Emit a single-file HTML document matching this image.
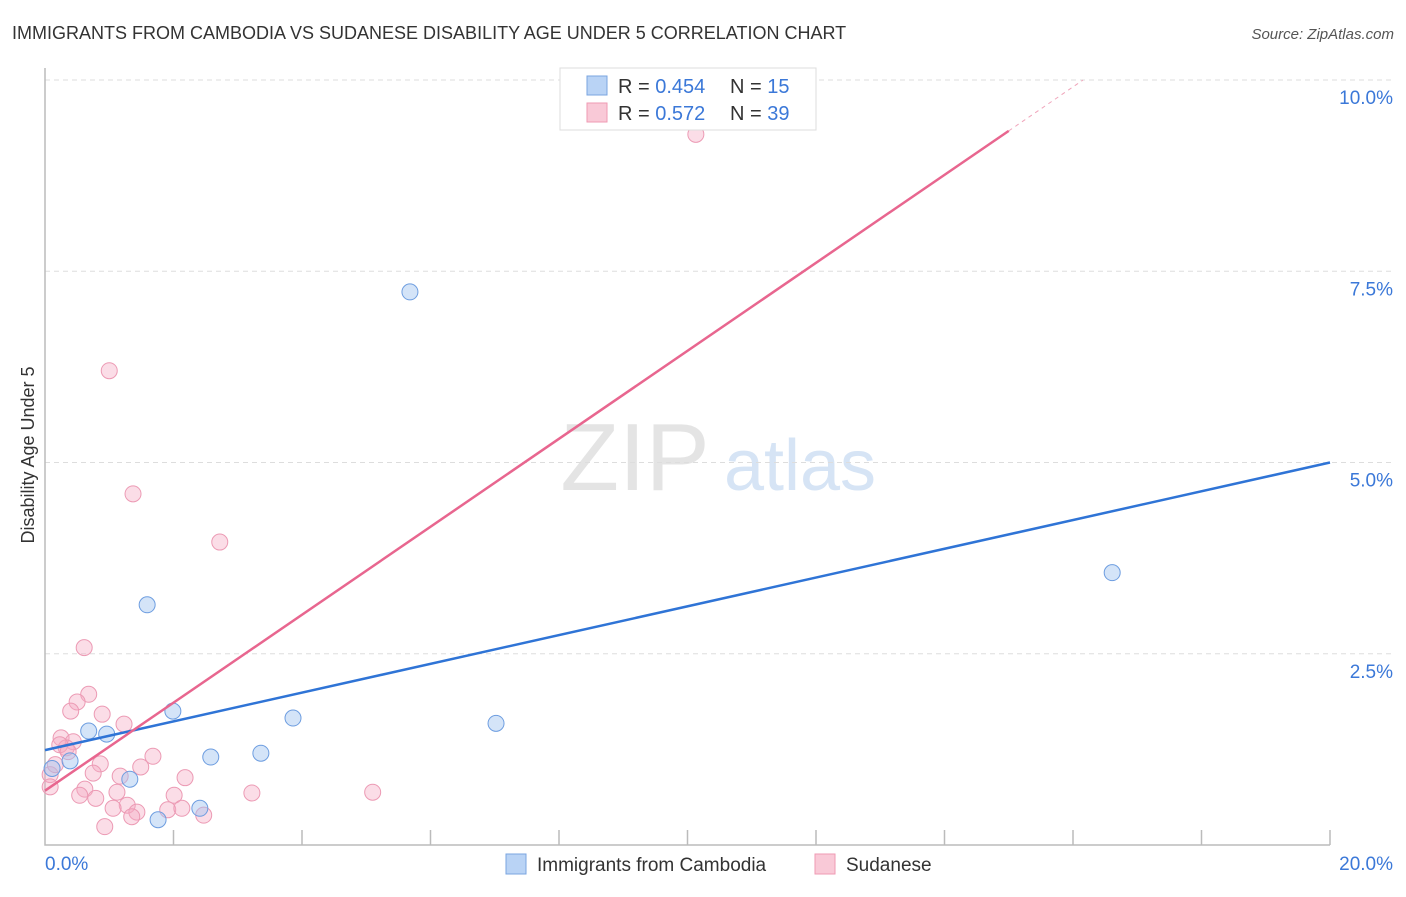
<!DOCTYPE html>
<html><head><meta charset="utf-8"><style>
body{margin:0;background:#fff;font-family:"Liberation Sans",sans-serif;}
svg text{font-family:"Liberation Sans",sans-serif;}
</style></head><body>
<svg width="1406" height="892" xmlns="http://www.w3.org/2000/svg">
<text x="12" y="39" font-size="18" fill="#333">IMMIGRANTS FROM CAMBODIA VS SUDANESE DISABILITY AGE UNDER 5 CORRELATION CHART</text>
<text x="1394" y="39" font-size="15" fill="#555" font-style="italic" text-anchor="end">Source: ZipAtlas.com</text>
<g>
<text x="635" y="490" font-size="96" fill="#e4e4e4" font-family="Liberation Serif" text-anchor="middle">ZIP</text>
<text x="800" y="490" font-size="72" fill="#d6e4f5" text-anchor="middle">atlas</text>
</g>
<g id="grid"></g>
<g id="axes"></g>
<g id="marks"></g>
<g>
<rect x="560" y="68" width="256" height="62" fill="#fff" stroke="#ddd"/>
<rect x="587" y="76" width="20" height="19" fill="#b9d3f5" stroke="#7aa5e0"/>
<text x="618" y="93" font-size="20" fill="#333">R = <tspan fill="#3b78d8">0.454</tspan></text>
<text x="730" y="93" font-size="20" fill="#333">N = <tspan fill="#3b78d8"> 15</tspan></text>
<rect x="587" y="103" width="20" height="19" fill="#f9c9d7" stroke="#ef9ab3"/>
<text x="618" y="120" font-size="20" fill="#333">R = <tspan fill="#3b78d8"> 0.572</tspan></text>
<text x="730" y="120" font-size="20" fill="#333">N = <tspan fill="#3b78d8">39</tspan></text>
</g>
<g>
<rect x="506" y="854" width="20" height="20" fill="#b9d3f5" stroke="#7aa5e0"/>
<text x="537" y="871" font-size="19" fill="#333">Immigrants from Cambodia</text>
<rect x="815" y="854" width="20" height="20" fill="#f9c9d7" stroke="#ef9ab3"/>
<text x="846" y="871" font-size="19" fill="#333">Sudanese</text>
</g>
<text transform="translate(34,455) rotate(-90)" font-size="18" fill="#333" text-anchor="middle">Disability Age Under 5</text>
</svg>
<script>
const yTicks=[2.5,5.0,7.5,10.0];
const yTickLabels=["2.5%","5.0%","7.5%","10.0%"];
const xTicks=[2,4,6,8,10,12,14,16,18,20];
const xEndLabels=["0.0%","20.0%"];
const blueX=[5.68,1.59,1.99,3.86,7.02,16.61,0.68,0.96,0.39,2.58,3.36,1.32,2.41,1.76,0.11];
const blueY=[7.23,3.14,1.75,1.66,1.59,3.56,1.49,1.45,1.10,1.15,1.20,0.86,0.48,0.33,1.0];
const pinkX=[10.13,1.0,1.37,2.72,0.61,0.68,0.5,0.4,0.89,1.23,0.25,0.44,0.33,1.68,0.86,1.49,0.75,0.08,1.17,2.18,0.62,1.12,0.54,0.79,2.01,3.22,5.1,1.28,1.06,1.43,1.91,2.13,2.47,1.35,0.93,0.08,0.16,0.23,0.36];
const pinkY=[9.29,6.2,4.59,3.96,2.58,1.97,1.87,1.75,1.71,1.58,1.40,1.35,1.27,1.16,1.06,1.02,0.94,0.92,0.90,0.88,0.73,0.69,0.65,0.61,0.65,0.68,0.69,0.52,0.48,0.43,0.46,0.48,0.39,0.37,0.24,0.76,1.05,1.31,1.22];
const blueTrend=[1.24,5.0]; // at x=0 and x=20
const pinkTrend=[0.71,0.575]; // intercept, slope
const NS="http://www.w3.org/2000/svg";
const X=v=>45+v*64.25, Y=v=>845-v*76.5;
function mk(t,a,p){const e=document.createElementNS(NS,t);for(const k in a)e.setAttribute(k,a[k]);p.appendChild(e);return e;}
const grid=document.getElementById('grid'),axes=document.getElementById('axes'),marks=document.getElementById('marks');
yTicks.forEach((v,i)=>{
 const l=mk('line',{x1:45,x2:1395,y1:Y(v),y2:Y(v),stroke:'#ddd','stroke-dasharray':'5,4'},grid);
 
 
 const t=mk('text',{x:1393,y:Y(v)+24,'font-size':19,fill:'#3b78d8','text-anchor':'end'},axes);
 t.textContent=yTickLabels[i];
 
 
});
const ax=mk('path',{d:'M45,68 V845 H1330',fill:'none',stroke:'#bbb','stroke-width':1.5},axes);


xTicks.forEach(v=>{
 const l=mk('line',{x1:X(v),x2:X(v),y1:830,y2:845,stroke:'#bbb','stroke-width':1.5},axes);
 
 
});
[[0,'start',45],[20,'end',1393]].forEach((a,i)=>{
 const t=mk('text',{x:a[2],y:870,'font-size':19,fill:'#3b78d8','text-anchor':a[1]},axes);
 t.textContent=xEndLabels[i];
 
 
});
pinkX.forEach((v,i)=>{
 const c=mk('circle',{cx:X(v),cy:Y(pinkY[i]),r:8,fill:'rgba(246,170,195,0.4)',stroke:'#ec9ab4','stroke-width':1},marks);
 
 
});
blueX.forEach((v,i)=>{
 const c=mk('circle',{cx:X(v),cy:Y(blueY[i]),r:8,fill:'rgba(160,196,240,0.45)',stroke:'#6d9de0','stroke-width':1},marks);
 
 
});
const bl=mk('line',{x1:X(0),y1:Y(blueTrend[0]),x2:X(20),y2:Y(blueTrend[1]),stroke:'#2f74d6','stroke-width':2.5},marks);


const xs=15.0, xe=(10-pinkTrend[0])/pinkTrend[1];
const pl=mk('line',{x1:X(0),y1:Y(pinkTrend[0]),x2:X(xs),y2:Y(pinkTrend[0]+pinkTrend[1]*xs),stroke:'#e8668f','stroke-width':2.5},marks);


const pd=mk('line',{x1:X(xs),y1:Y(pinkTrend[0]+pinkTrend[1]*xs),x2:X(xe),y2:Y(10),stroke:'#f0a5bb','stroke-width':1,'stroke-dasharray':'4,4'},marks);


</script>
</body></html>
